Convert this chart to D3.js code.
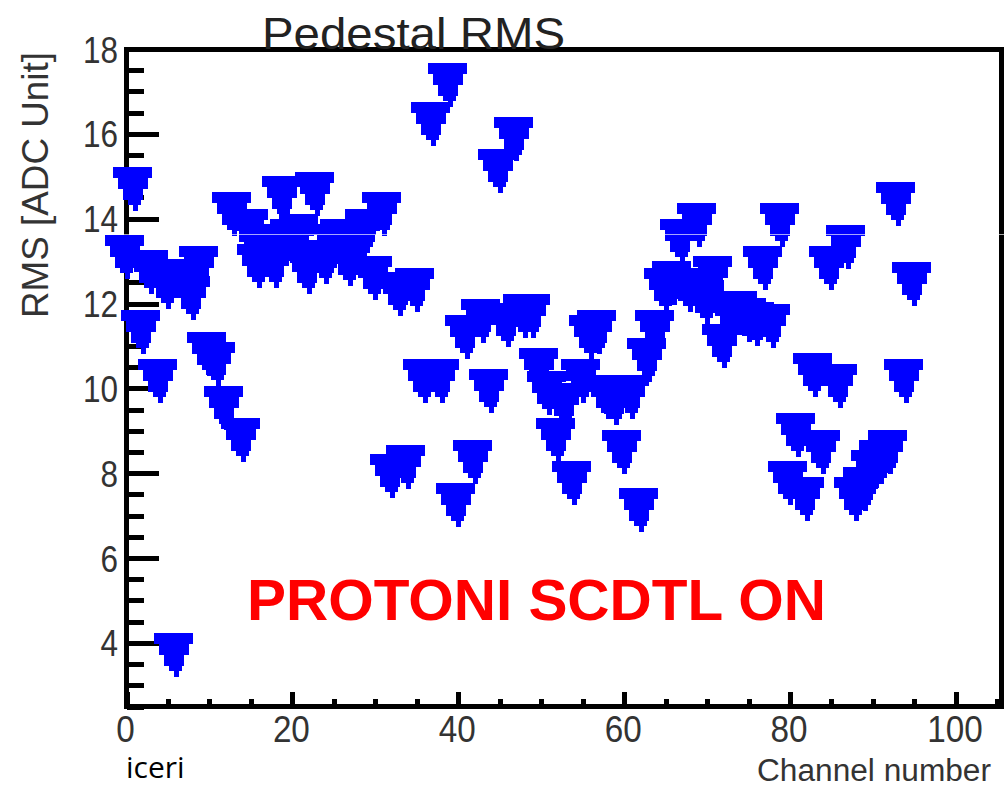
<!DOCTYPE html>
<html>
<head>
<meta charset="utf-8">
<script src="https://cdn.jsdelivr.net/npm/d3@7"></script>
<style>
  html, body { margin: 0; padding: 0; background: #ffffff; overflow: hidden; }
  svg { display: block; }
</style>
</head>
<body>
<svg id="chart" width="1005" height="788"></svg>
<script>
// Pedestal RMS per channel (ADC units), channel number = array index
const rmsValues = [
  13.09, 14.71, 11.32, 12.74, 10.17, 12.38, 3.72, 12.54, 12.13, 12.84,
  10.80, 10.57, 9.53, 14.11, 8.78, 13.70, 12.89, 13.35, 12.89, 14.48,
  13.47, 13.58, 12.74, 14.59, 12.99, 13.35, 13.47, 12.94, 13.35, 13.70,
  12.60, 14.11, 7.93, 12.23, 8.14, 12.33, 10.17, 16.24, 10.17, 17.14,
  7.25, 11.21, 8.26, 11.58, 9.93, 15.12, 11.49, 15.87, 11.71, 11.71,
  10.43, 9.90, 8.78, 9.60, 7.77, 10.17, 11.22, 11.32, 9.80, 9.65,
  8.51, 9.80, 7.13, 10.68, 11.32, 12.33, 12.48, 13.47, 12.33, 13.84,
  12.03, 12.60, 10.99, 11.71, 11.78, 11.60, 11.52, 12.84, 11.47, 13.84,
  7.76, 8.89, 7.39, 10.31, 8.51, 12.84, 10.05, 13.33, 7.39, 7.62,
  8.03, 8.26, 8.51, 14.34, 10.17, 12.47
];
const channels = rmsValues.map((v, i) => i);

const xTickValues = [0, 20, 40, 60, 80, 100];
const xMinorTickValues = [5, 10, 15, 25, 30, 35, 45, 50, 55, 65, 70, 75, 85, 90, 95, 105];
const yTickValues = [4, 6, 8, 10, 12, 14, 16, 18];
const yMinorTickValues = [2.5, 3, 3.5, 4.5, 5, 5.5, 6.5, 7, 7.5, 8.5, 9, 9.5, 10.5, 11, 11.5,
                          12.5, 13, 13.5, 14.5, 15, 15.5, 16.5, 17, 17.5];

const titleText = "Pedestal RMS";
const xTitle = "Channel number";
const yTitle = "RMS [ADC Unit]";
const noteText = "PROTONI SCDTL ON";
const footerText = "iceri";

const W = 1005, H = 788;
const svg = d3.select("#chart");

const x = d3.scaleLinear().domain([0, 105.5]).range([126.5, 1001.5]);
const y = d3.scaleLinear().domain([2.5, 18]).range([706.5, 49]);

const ink = "#000000";
const labelInk = "#333333";
const markerBlue = "#0000ff";

// ---- ticks (drawn inward from the frame) ----
function styleTicks(g) {
  g.select(".domain").remove();
  g.selectAll(".tick line").attr("stroke", ink).attr("stroke-width", 5)
    .attr("shape-rendering", "crispEdges");
  g.selectAll(".tick text").remove();
}
svg.append("g").attr("transform", `translate(${x(0)},0)`)
  .call(d3.axisLeft(y).tickValues(yMinorTickValues).tickSize(-17.5).tickFormat(""))
  .call(styleTicks);
svg.append("g").attr("transform", `translate(${x(0)},0)`)
  .call(d3.axisLeft(y).tickValues(yTickValues).tickSize(-32.5).tickFormat(""))
  .call(styleTicks);
svg.append("g").attr("transform", `translate(0,${y(2.5)})`)
  .call(d3.axisBottom(x).tickValues(xMinorTickValues).tickSize(-8).tickFormat(""))
  .call(styleTicks);
svg.append("g").attr("transform", `translate(0,${y(2.5)})`)
  .call(d3.axisBottom(x).tickValues(xTickValues).tickSize(-15).tickFormat(""))
  .call(styleTicks);

// ---- frame ----
svg.append("rect")
  .attr("x", x(0)).attr("y", y(18))
  .attr("width", x(105.5) - x(0)).attr("height", y(2.5) - y(18))
  .attr("fill", "none").attr("stroke", ink).attr("stroke-width", 5)
  .attr("shape-rendering", "crispEdges");

// ---- tick labels ----
svg.append("g").selectAll("text").data(yTickValues).join("text")
  .attr("x", 118).attr("y", d => y(d) + 13.5)
  .attr("text-anchor", "end")
  .attr("font-family", "Liberation Sans, Arial, sans-serif")
  .attr("font-size", 37).attr("fill", labelInk)
  .attr("textLength", d => String(d).length * 17.5)
  .attr("lengthAdjust", "spacingAndGlyphs")
  .text(d => d);

svg.append("g").selectAll("text").data(xTickValues).join("text")
  .attr("x", d => x(d) - 1).attr("y", 742)
  .attr("text-anchor", "middle")
  .attr("font-family", "Liberation Sans, Arial, sans-serif")
  .attr("font-size", 37).attr("fill", labelInk)
  .attr("textLength", d => String(d).length * 18.5)
  .attr("lengthAdjust", "spacingAndGlyphs")
  .text(d => d);

// ---- axis titles and plot title ----
svg.append("text")
  .attr("x", 991).attr("y", 781)
  .attr("text-anchor", "end")
  .attr("font-family", "Liberation Sans, Arial, sans-serif")
  .attr("font-size", 31).attr("fill", labelInk)
  .attr("textLength", 234).attr("lengthAdjust", "spacingAndGlyphs")
  .text(xTitle);

svg.append("text")
  .attr("transform", "translate(48,52) rotate(-90)")
  .attr("text-anchor", "end")
  .attr("font-family", "Liberation Sans, Arial, sans-serif")
  .attr("font-size", 36).attr("fill", labelInk)
  .attr("textLength", 266).attr("lengthAdjust", "spacingAndGlyphs")
  .text(yTitle);

svg.append("text")
  .attr("x", 262).attr("y", 49)
  .attr("font-family", "Liberation Sans, Arial, sans-serif")
  .attr("font-size", 44).attr("fill", "#222222")
  .attr("textLength", 303).attr("lengthAdjust", "spacingAndGlyphs")
  .text(titleText);

// ---- markers: full down-pointing triangles (stepped outline) ----
const markerOutline = [
  [0, 0], [39, 0], [39, 11], [35, 11], [35, 22], [30, 22], [30, 33], [28, 33],
  [28, 38], [25, 38], [25, 44], [20, 44], [20, 38], [15, 38], [15, 33], [10, 33],
  [10, 22], [5, 22], [5, 11], [0, 11]
].map(([px, py]) => [px - 22, py - 22]);
const markerPath = "M" + markerOutline.map(p => p.join(",")).join("L") + "Z";

svg.append("g").selectAll("path").data(channels).join("path")
  .attr("d", markerPath)
  .attr("transform", i => `translate(${x(i)},${y(rmsValues[i])})`)
  .attr("fill", markerBlue)
  .attr("shape-rendering", "crispEdges");

// faint horizontal rule crossing the figure
svg.append("line")
  .attr("x1", 0).attr("x2", W).attr("y1", 234.5).attr("y2", 234.5)
  .attr("stroke", "#ffffff").attr("stroke-opacity", 0.65).attr("stroke-width", 1);

// ---- annotation ----
svg.append("text")
  .attr("x", 247).attr("y", 620)
  .attr("font-family", "Liberation Sans, Arial, sans-serif")
  .attr("font-weight", "bold")
  .attr("font-size", 58).attr("fill", "#ff0000")
  .attr("textLength", 579).attr("lengthAdjust", "spacingAndGlyphs")
  .text(noteText);

svg.append("text")
  .attr("x", 126).attr("y", 778)
  .attr("font-family", "Open Sans, Lato, sans-serif")
  .attr("font-size", 30).attr("fill", "#000000")
  .text(footerText);
</script>
</body>
</html>
